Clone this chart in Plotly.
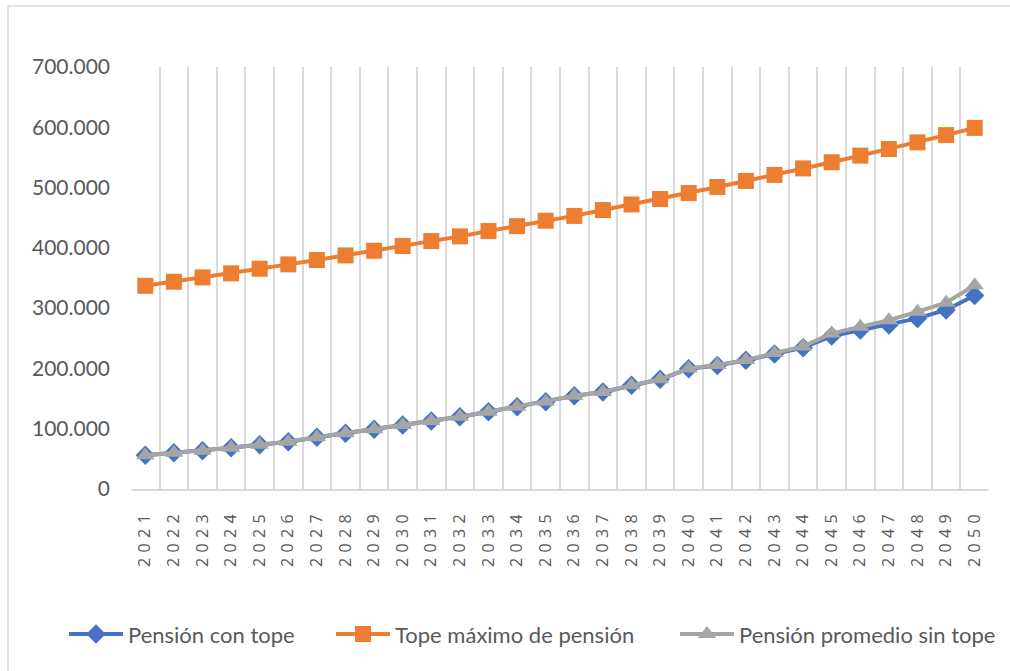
import plotly.graph_objects as go

# Years of the projection
years = [str(y) for y in range(2021, 2051)]

# Pensión con tope
pension_con_tope = [
    56000, 60000, 63500, 68500, 73500, 78500, 85700, 92300, 99000, 106000,
    113000, 120000, 128000, 136500, 144800, 154500, 161000, 172000, 182000, 199500,
    205000, 213500, 224000, 234500, 253700, 263700, 272000, 283000, 297000, 321000,
]

# Tope máximo de pensión
tope_maximo = [
    337000, 343800, 351000, 357700, 365400, 372600, 379800, 387500, 395200, 403000,
    411300, 419000, 427900, 436000, 445000, 453000, 462700, 472000, 481000, 491000,
    501000, 511000, 521000, 531800, 542000, 553000, 564000, 575000, 587000, 599000,
]

# Pensión promedio sin tope
pension_sin_tope = [
    56000, 60000, 63500, 68500, 73500, 78500, 85700, 92300, 99000, 106000,
    113000, 120000, 128000, 136500, 144800, 154700, 161000, 172000, 182000, 200000,
    205600, 214000, 225500, 236500, 258000, 269000, 280000, 294000, 309000, 338000,
]

y_ticks = [0, 100000, 200000, 300000, 400000, 500000, 600000, 700000]

BLUE = "#4472C4"
ORANGE = "#ED7D31"
GRAY = "#A5A5A5"
TEXT = "#595959"
GRID = "#D9D9D9"
FONT = "Lato"

# Rotated year labels are spaced out digit by digit
year_text = ["\u2004".join(y) for y in years]

fig = go.Figure()
fig.add_trace(go.Scatter(
    x=years, y=pension_con_tope, name="Pensión con tope", mode="lines+markers",
    line=dict(color=BLUE, width=4),
    marker=dict(symbol="diamond", size=15, color=BLUE),
    legend="legend",
))
fig.add_trace(go.Scatter(
    x=years, y=tope_maximo, name="Tope máximo de pensión", mode="lines+markers",
    line=dict(color=ORANGE, width=4),
    marker=dict(symbol="square", size=16, color=ORANGE),
    legend="legend2",
))
fig.add_trace(go.Scatter(
    x=years, y=pension_sin_tope, name="Pensión promedio sin tope", mode="lines+markers",
    line=dict(color=GRAY, width=4),
    marker=dict(symbol="triangle-up", size=16, color=GRAY),
    legend="legend3",
))

# One legend box per series, laid out along the bottom row
PLOT_L, PLOT_W = 131, 858


def legend_at(px):
    return dict(
        orientation="h", x=(px - PLOT_L) / PLOT_W, xanchor="left",
        y=-0.344, yanchor="middle",
        font=dict(family=FONT, size=22, color=TEXT),
        itemwidth=54, bgcolor="rgba(0,0,0,0)",
    )


fig.update_layout(
    width=1010, height=671,
    margin=dict(l=131, r=21, t=67, b=182, autoexpand=False),
    paper_bgcolor="white", plot_bgcolor="white",
    separators=",.",
    font=dict(family=FONT, color=TEXT),
    showlegend=True,
    legend=legend_at(64),
    legend2=legend_at(331),
    legend3=legend_at(675),
    shapes=[dict(
        type="rect", xref="paper", yref="paper",
        x0=-123 / 858, x1=1.2, y0=-0.5, y1=(489 - 6) / 422,
        line=dict(color=GRID, width=1.5), fillcolor="rgba(0,0,0,0)", layer="below",
    )],
)

fig.update_xaxes(
    type="category", tickson="boundaries", range=[-0.5, len(years) - 0.5],
    tickvals=years, ticktext=year_text, tickangle=-90,
    showgrid=True, gridcolor=GRID, gridwidth=2,
    showline=True, linecolor=GRID, linewidth=2,
    ticks="", tickfont=dict(family="Open Sans", size=16, color=TEXT),
    ticklabelstandoff=17,
)
fig.update_yaxes(
    range=[0, 700000], tickvals=y_ticks, tickformat=",d",
    showgrid=False, zeroline=False, showline=False, ticks="",
    tickfont=dict(family=FONT, size=21, color=TEXT),
    ticklabelstandoff=20,
)

fig.write_html("out.html")
